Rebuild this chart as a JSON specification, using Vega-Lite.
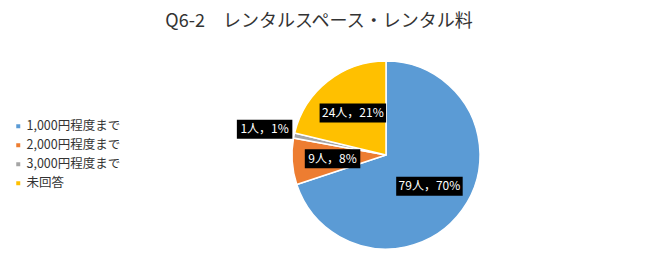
{
  "$schema": "https://vega.github.io/schema/vega-lite/v6.json",
  "width": 188,
  "height": 188,
  "autosize": {"type": "none"},
  "padding": {"left": 292, "top": 61, "right": 170, "bottom": 30},
  "background": "white",
  "config": {"view": {"stroke": null}},
  "title": {
    "text": "Q6-2　レンタルスペース・レンタル料",
    "font": "Noto Sans CJK JP",
    "fontSize": 18,
    "fontWeight": "normal",
    "color": "#333333",
    "anchor": "middle",
    "dx": -67,
    "offset": 27
  },
  "data": {
    "values": [
      {"category": "1,000円程度まで", "n": 79, "pct": 70, "order": 1},
      {"category": "2,000円程度まで", "n": 9, "pct": 8, "order": 2},
      {"category": "3,000円程度まで", "n": 1, "pct": 1, "order": 3},
      {"category": "未回答", "n": 24, "pct": 21, "order": 4}
    ]
  },
  "transform": [
    {"stack": "n", "groupby": [], "sort": [{"field": "order", "order": "ascending"}], "as": ["s0", "s1"]},
    {"joinaggregate": [{"op": "sum", "field": "n", "as": "total"}]},
    {"calculate": "PI * (datum.s0 + datum.s1) / datum.total", "as": "mid"},
    {"calculate": "datum.n < 5 ? 1.32 : 0.57", "as": "lr"},
    {"calculate": "datum.lr * sin(datum.mid)", "as": "lx"},
    {"calculate": "datum.lr * cos(datum.mid)", "as": "ly"},
    {"calculate": "datum.n + '人，' + datum.pct + '%'", "as": "label"},
    {"calculate": "(5.5 * length(datum.label) + 28) / 188", "as": "hw"},
    {"calculate": "datum.lx - datum.hw", "as": "bx0"},
    {"calculate": "datum.lx + datum.hw", "as": "bx1"},
    {"calculate": "datum.ly - 9.5 / 94", "as": "by0"},
    {"calculate": "datum.ly + 9.5 / 94", "as": "by1"}
  ],
  "layer": [
    {
      "mark": {"type": "arc", "outerRadius": 94, "stroke": "white", "strokeWidth": 1.5},
      "encoding": {
        "theta": {"field": "n", "type": "quantitative", "stack": true},
        "order": {"field": "order", "type": "quantitative", "sort": "ascending"},
        "color": {
          "field": "category",
          "type": "nominal",
          "sort": ["1,000円程度まで", "2,000円程度まで", "3,000円程度まで", "未回答"],
          "scale": {
            "domain": ["1,000円程度まで", "2,000円程度まで", "3,000円程度まで", "未回答"],
            "range": ["#5B9BD5", "#ED7D31", "#A5A5A5", "#FFC000"]
          },
          "legend": {
            "title": null,
            "orient": "none",
            "legendX": -280,
            "legendY": 59,
            "symbolType": "square",
            "symbolSize": 16,
            "symbolStrokeWidth": 0,
            "labelFont": "Noto Sans CJK JP",
            "labelFontSize": 12.5,
            "labelColor": "#333333",
            "labelOffset": 2,
            "rowPadding": 6
          }
        }
      }
    },
    {
      "mark": {"type": "rect", "color": "black"},
      "encoding": {
        "x": {"field": "bx0", "type": "quantitative", "scale": {"domain": [-1, 1], "nice": false, "zero": false}, "axis": null},
        "x2": {"field": "bx1"},
        "y": {"field": "by0", "type": "quantitative", "scale": {"domain": [-1, 1], "nice": false, "zero": false}, "axis": null},
        "y2": {"field": "by1"}
      }
    },
    {
      "mark": {
        "type": "text",
        "font": "Noto Sans CJK JP",
        "fontSize": 12,
        "color": "white",
        "baseline": "middle",
        "align": "center"
      },
      "encoding": {
        "x": {"field": "lx", "type": "quantitative"},
        "y": {"field": "ly", "type": "quantitative"},
        "text": {"field": "label"}
      }
    }
  ]
}
